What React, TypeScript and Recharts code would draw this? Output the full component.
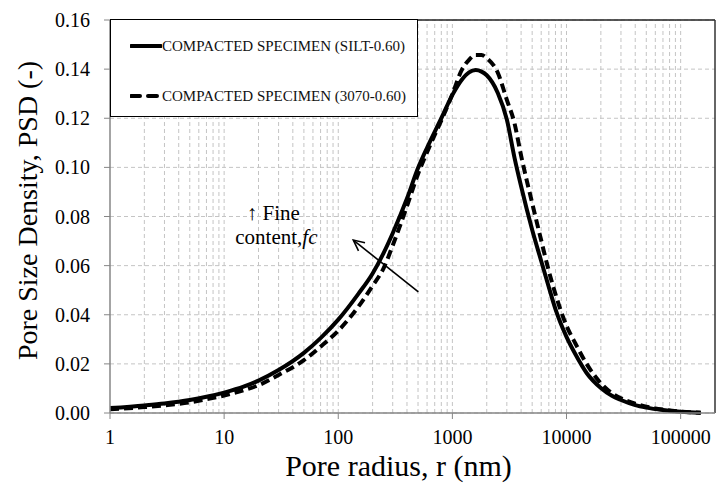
import React from 'react';
import {
  LineChart,
  Line,
  XAxis,
  YAxis,
  CartesianGrid,
  ReferenceLine,
  ReferenceDot,
  Legend,
} from 'recharts';

// ---------- data ----------
const radius = [
  1, 2, 3, 5, 7, 10, 15, 20, 30, 50, 70, 100, 150, 200, 250, 300, 400, 500, 600, 700, 800,
  1000, 1200, 1400, 1600, 1800, 2000, 2500, 3000, 3500, 4000, 5000, 6000, 7000, 8000, 10000,
  12000, 15000, 20000, 25000, 30000, 40000, 50000, 70000, 100000, 150000,
];
const siltPsd = [
  0.002, 0.0031, 0.0039, 0.0053, 0.0066, 0.0083, 0.0108, 0.0132, 0.0175, 0.0245, 0.0305,
  0.038, 0.0485, 0.0568, 0.0652, 0.0732, 0.0873, 0.0997, 0.108, 0.1145, 0.12, 0.1295, 0.1355,
  0.1387, 0.1396, 0.139, 0.1375, 0.1303, 0.1195, 0.104, 0.0923, 0.0746, 0.0619, 0.0512,
  0.0423, 0.031, 0.0238, 0.0163, 0.0102, 0.007, 0.0053, 0.0032, 0.0022, 0.0012, 0.0005,
  0.0001,
];
const mix3070Psd = [
  0.0015, 0.0024, 0.0031, 0.0043, 0.0056, 0.0071, 0.0093, 0.0113, 0.0155, 0.0215, 0.027,
  0.0335, 0.0433, 0.0518, 0.059, 0.0682, 0.0842, 0.0973, 0.1062, 0.1132, 0.1191, 0.1298,
  0.1394, 0.1438, 0.1458, 0.1458, 0.1445, 0.1385, 0.1275, 0.118, 0.1048, 0.0855, 0.0703,
  0.0578, 0.0484, 0.0355, 0.0282, 0.02, 0.0121, 0.0081, 0.006, 0.0038, 0.0026, 0.0014,
  0.0006, 0.0001,
];
const seriesNames = ['COMPACTED SPECIMEN (SILT-0.60)', 'COMPACTED SPECIMEN (3070-0.60)'];
const xTicks = [1, 10, 100, 1000, 10000, 100000];
const yTicks = [0, 0.02, 0.04, 0.06, 0.08, 0.1, 0.12, 0.14, 0.16];
const decades = [1, 10, 100, 1000, 10000];
const multipliers = [2, 3, 4, 5, 6, 7, 8, 9, 10];
const xMax = 200000;
const xTitle = 'Pore radius, r (nm)';
const yTitle = 'Pore Size Density, PSD (-)';
const annotationLines = ['\u2191 Fine', 'content,'];
const annotationItalic = 'fc';
const arrowFrom = { x: 503, y: 0.0493 };
const arrowTo = { x: 135.5, y: 0.0704 };
const annotationAt = { x: 27, y: 0.0806 };

const data = radius.map((r, i) => ({ r, silt: siltPsd[i], mix: mix3070Psd[i] }));
const gridX = decades.flatMap((d) => multipliers.map((m) => d * m));

const FAMILY = 'Liberation Serif';
const FONT = '"Liberation Serif", "Times New Roman", serif';
const GRID = '#c4c4c4';
const AXIS = '#868686';

const LegendBox = () => (
  <div
    style={{
      position: 'relative',
      width: 308,
      height: 98,
      boxSizing: 'border-box',
      border: '1.5px solid #000',
      background: '#fff',
      fontFamily: FONT,
    }}
  >
    {seriesNames.map((name, i) => (
      <div
        key={name}
        style={{
          position: 'absolute',
          left: 19,
          top: i === 0 ? 17 : 67,
          height: 18,
          display: 'flex',
          alignItems: 'center',
          whiteSpace: 'nowrap',
        }}
      >
        <svg width={32} height={8} style={{ display: 'block' }}>
          <line
            x1={1}
            x2={31}
            y1={4}
            y2={4}
            stroke="#000"
            strokeWidth={4}
            strokeLinecap="round"
            strokeDasharray={i === 0 ? undefined : '9 8'}
          />
        </svg>
        <span style={{ fontSize: 15, color: '#111', lineHeight: '18px' }}>{name}</span>
      </div>
    ))}
  </div>
);

const Arrow = (props: any) => {
  const { x1, y1, x2, y2 } = props;
  const tipFirst = x1 < x2;
  const tx = tipFirst ? x1 : x2;
  const ty = tipFirst ? y1 : y2;
  const sx = tipFirst ? x2 : x1;
  const sy = tipFirst ? y2 : y1;
  const ang = Math.atan2(sy - ty, sx - tx);
  const len = 12;
  const spread = 0.45;
  const a1x = tx + len * Math.cos(ang + spread);
  const a1y = ty + len * Math.sin(ang + spread);
  const a2x = tx + len * Math.cos(ang - spread);
  const a2y = ty + len * Math.sin(ang - spread);
  return (
    <g>
      <line x1={sx} y1={sy} x2={tx} y2={ty} stroke="#000" strokeWidth={1.6} />
      <polyline
        points={`${a1x},${a1y} ${tx},${ty} ${a2x},${a2y}`}
        fill="none"
        stroke="#000"
        strokeWidth={1.6}
      />
    </g>
  );
};

const Annotation = (props: any) => {
  const { cx, cy } = props;
  return (
    <g fontSize={21} fill="#000">
      <text x={cx} y={cy + 5} textAnchor="middle" fontFamily={FAMILY}>
        {annotationLines[0]}
      </text>
      <text x={cx + 3} y={cy + 29} textAnchor="middle" fontFamily={FAMILY}>
        {annotationLines[1]}
        <tspan fontStyle="italic">{annotationItalic}</tspan>
      </text>
    </g>
  );
};

const XTitle = (props: any) => {
  const vb = props.viewBox || {};
  return (
    <text
      x={vb.x + vb.width / 2 - 14}
      y={476}
      textAnchor="middle"
      fill="#000"
      fontFamily={FAMILY}
      fontSize={30}
    >
      {xTitle}
    </text>
  );
};

const YTitle = (props: any) => {
  const vb = props.viewBox || {};
  const cy = vb.y + vb.height / 2 - 6;
  const cx = 37;
  return (
    <text
      x={cx}
      y={cy}
      textAnchor="middle"
      transform={`rotate(-90 ${cx} ${cy})`}
      fill="#000"
      fontFamily={FAMILY}
      fontSize={28}
    >
      {yTitle}
    </text>
  );
};

const XTick = (props: any) => {
  const { x, y, payload } = props;
  return (
    <text x={x} y={y} dy="0.71em" textAnchor="middle" fill="#000" fontFamily={FAMILY} fontSize={20}>
      {payload.value}
    </text>
  );
};

const YTick = (props: any) => {
  const { x, y, payload } = props;
  return (
    <text x={x} y={y} dy="0.355em" textAnchor="end" fill="#000" fontFamily={FAMILY} fontSize={20}>
      {Number(payload.value).toFixed(2)}
    </text>
  );
};

export default function App() {
  return (
    <div
      style={{
        position: 'absolute',
        left: 0,
        top: 0,
        width: 718,
        height: 484,
        background: '#fff',
        fontFamily: FONT,
      }}
    >
      <LineChart
        width={718}
        height={484}
        data={data}
        margin={{ top: 20, right: 3, bottom: 31, left: 40 }}
      >
        <CartesianGrid vertical={false} stroke={GRID} strokeDasharray="4 3" />
        {gridX.map((g) => (
          <ReferenceLine key={g} x={g} stroke={GRID} strokeDasharray="4 3" />
        ))}
        <ReferenceLine y={0.16} stroke="#222" strokeWidth={1.5} />
        <ReferenceLine x={xMax} stroke="#333" strokeWidth={1.5} />
        <XAxis
          dataKey="r"
          type="number"
          scale="log"
          domain={[1, xMax]}
          ticks={xTicks}
          allowDataOverflow
          height={40}
          tickSize={6}
          tickMargin={11}
          axisLine={{ stroke: AXIS, strokeWidth: 1.5 }}
          tickLine={{ stroke: AXIS }}
          tick={XTick}
          label={{ content: XTitle }}
        />
        <YAxis
          type="number"
          domain={[0, 0.16]}
          ticks={yTicks}
          width={70}
          tickSize={6}
          tickMargin={14}
          axisLine={{ stroke: AXIS, strokeWidth: 1.5 }}
          tickLine={{ stroke: AXIS }}
          tick={YTick}
          label={{ content: YTitle }}
        />
        <Line
          type="monotone"
          dataKey="silt"
          name={seriesNames[0]}
          stroke="#000"
          strokeWidth={4}
          dot={false}
          isAnimationActive={false}
        />
        <Line
          type="monotone"
          dataKey="mix"
          name={seriesNames[1]}
          stroke="#000"
          strokeWidth={4}
          strokeDasharray="9 5"
          dot={false}
          isAnimationActive={false}
        />
        <ReferenceLine segment={[arrowFrom, arrowTo]} shape={Arrow} />
        <ReferenceDot x={annotationAt.x} y={annotationAt.y} shape={Annotation} />
        <Legend
          layout="vertical"
          align="center"
          verticalAlign="middle"
          content={() => <LegendBox />}
          wrapperStyle={{ left: 110, top: 19, width: 308, height: 98 }}
        />
      </LineChart>
    </div>
  );
}
